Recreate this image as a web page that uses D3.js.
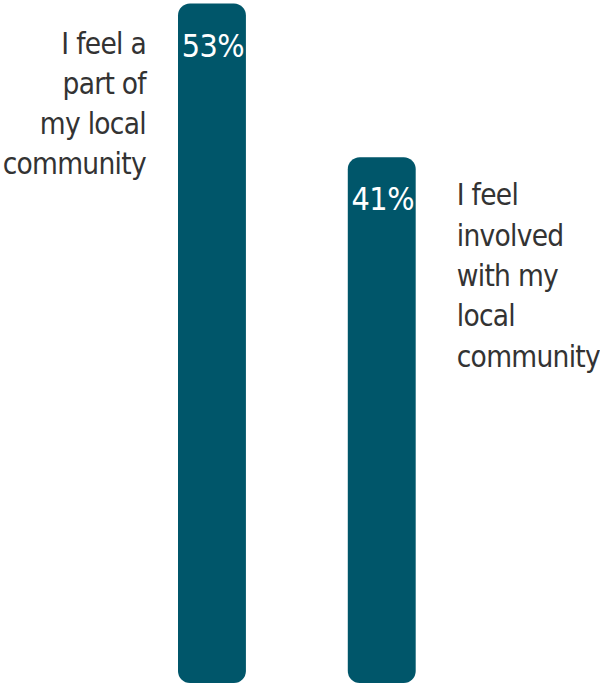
<!DOCTYPE html>
<html>
<head>
<meta charset="utf-8">
<script src="https://cdn.jsdelivr.net/npm/d3@7"></script>
<style>
  html, body { margin: 0; padding: 0; background: #ffffff; }
  svg { display: block; }
</style>
</head>
<body>
<script>
// Share of respondents agreeing with each statement
const categories = ["I feel a part of my local community", "I feel involved with my local community"];
const values = [53, 41];
const valueLabels = ["53%", "41%"];
const labelLines = [
  ["I feel a", "part of", "my local", "community"],
  ["I feel", "involved", "with my", "local", "community"]
];

const width = 600, height = 686;
const barColor = "#00566a";
const textColor = "#333333";
const fontFamily = "'DejaVu Sans Condensed', 'DejaVu Sans', sans-serif";

const svg = d3.select("body").append("svg")
  .attr("width", width)
  .attr("height", height);

const x = d3.scaleBand()
  .domain(categories)
  .range([178, 415.7])
  .paddingInner(0.6)
  .paddingOuter(0);

const y = d3.scaleLinear()
  .domain([0, 53])
  .range([683, 3.5]);

const bw = x.bandwidth();

svg.selectAll("rect.bar")
  .data(categories)
  .join("rect")
  .attr("class", "bar")
  .attr("x", d => x(d))
  .attr("y", (d, i) => y(values[i]))
  .attr("width", bw)
  .attr("height", (d, i) => y(0) - y(values[i]))
  .attr("rx", 12)
  .attr("ry", 12)
  .attr("fill", barColor);

svg.selectAll("text.value")
  .data(categories)
  .join("text")
  .attr("class", "value")
  .attr("x", d => x(d) + bw / 2 + 1)
  .attr("y", (d, i) => y(values[i]) + 53)
  .attr("text-anchor", "middle")
  .attr("fill", "#ffffff")
  .style("font-family", fontFamily)
  .style("font-size", "32px")
  .style("letter-spacing", "-0.5px")
  .text((d, i) => valueLabels[i]);

// Category labels: left of the first bar, right of the second
const labelGroups = svg.selectAll("text.cat")
  .data(categories)
  .join("text")
  .attr("class", "cat")
  .attr("fill", textColor)
  .style("font-family", fontFamily)
  .style("font-size", "29.5px")
  .style("letter-spacing", "-0.7px")
  .attr("text-anchor", (d, i) => i === 0 ? "end" : "start")
  .attr("transform", (d, i) => i === 0
    ? `translate(${x(d) - 32}, ${y(values[i]) + 50})`
    : `translate(${x(d) + bw + 41}, ${y(values[i]) + 48})`);

labelGroups.selectAll("tspan")
  .data((d, i) => labelLines[i])
  .join("tspan")
  .attr("x", 0)
  .attr("dy", (d, j) => j === 0 ? 0 : 40.3)
  .text(d => d);
</script>
</body>
</html>
